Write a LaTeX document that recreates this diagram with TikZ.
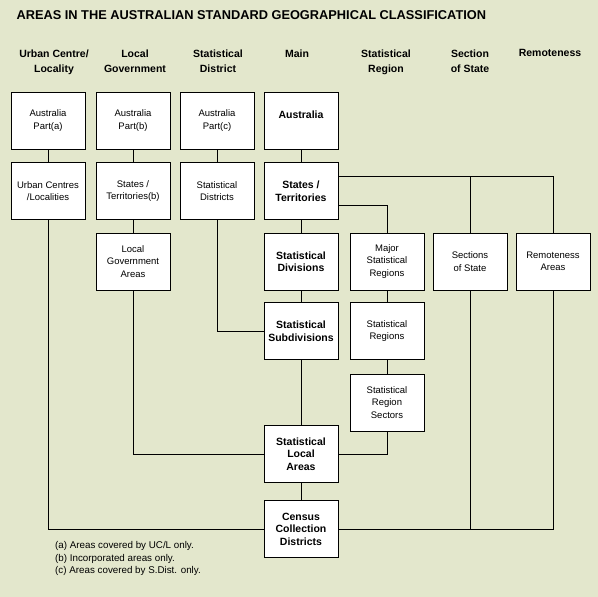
\documentclass[tikz,border=0pt]{standalone}
\usepackage{fontspec}
\setmainfont{Liberation Sans}
\usetikzlibrary{positioning}
\definecolor{PageBg}{HTML}{E3E7CC}

\begin{document}
\begin{tikzpicture}[x=1pt, y=-1pt,
    box/.style={draw=black, fill=white, line width=1pt, minimum width=74pt,
                minimum height=57pt, align=center, inner sep=1pt,
                font=\fontsize{9.5}{12.3}\selectfont},
    mainbox/.style={box, font=\fontsize{10.5}{12.5}\selectfont\bfseries},
    head/.style={anchor=north, align=center, font=\fontsize{10.5}{15}\selectfont\bfseries},
    link/.style={draw=black, line width=1pt}]
  \fill[PageBg] (0,0) rectangle (598,597);
  \useasboundingbox (0,0) rectangle (598,597);

  % title and column heads
  \node[anchor=west, font=\fontsize{12.8}{15}\selectfont\bfseries] (title) at (13,15)
    {AREAS IN THE AUSTRALIAN STANDARD GEOGRAPHICAL CLASSIFICATION};
  \node[head] (hUC)  at (54,46)  {Urban Centre/\\Locality};
  \node[head] (hLG)  at (135,46) {Local\\Government};
  \node[head] (hSD)  at (218,46) {Statistical\\District};
  \node[head] (hMn)  at (297,46) {Main};
  \node[head] (hSR)  at (386,46) {Statistical\\Region};
  \node[head] (hSoS) at (470,46) {Section\\of State};
  \node[head] (hRem) at (550,46) {Remoteness};

  % boxes
  \node[box] (apa) at (48,120.5)  {Australia\\Part(a)};
  \node[box] (apb) at (133,120.5) {Australia\\Part(b)};
  \node[box] (apc) at (217,120.5) {Australia\\Part(c)};
  \node[mainbox] (aus) at (301,120.5) {Australia\\\mbox{}};

  \node[box] (ucl) at (48,191)  {Urban Centres\\/Localities};
  \node[box] (stb) at (133,191) {States /\\Territories(b)};
  \node[box] (sdi) at (217,191) {Statistical\\Districts};
  \node[mainbox] (ste) at (301,191) {States /\\Territories};

  \node[box] (lga) at (133,261.5) {Local\\Government\\Areas};
  \node[mainbox] (sdv) at (301,261.5) {Statistical\\Divisions};
  \node[box] (msr) at (387,261.5) {Major\\Statistical\\Regions};
  \node[box] (sos) at (470,261.5) {Sections\\of State};
  \node[box] (rem) at (553,261.5) {Remoteness\\Areas};

  \node[mainbox] (ssd) at (301,331) {Statistical\\Subdivisions};
  \node[box] (sre) at (387,331) {Statistical\\Regions};
  \node[box] (srs) at (387,402.5) {Statistical\\Region\\Sectors};

  \node[mainbox] (sla) at (301,454) {Statistical\\Local\\Areas};
  \node[mainbox] (ccd) at (301,529) {Census\\Collection\\Districts};

  % connectors
  \draw[link] (apa) -- (ucl);
  \draw[link] (ucl.south) |- (ccd.west);
  \draw[link] (apb) -- (stb);
  \draw[link] (stb) -- (lga);
  \draw[link] (lga.south) |- (sla.west);
  \draw[link] (apc) -- (sdi);
  \draw[link] (sdi.south) |- (ssd.west);
  \draw[link] (aus) -- (ste);
  \draw[link] (ste) -- (sdv);
  \draw[link] (sdv) -- (ssd);
  \draw[link] (ssd) -- (sla);
  \draw[link] (sla) -- (ccd);
  \draw[link] ([yshift=15pt]ste.east) -| (sos.north);
  \draw[link] ([yshift=15pt]ste.east) -| (rem.north);
  \draw[link] ([yshift=-14pt]ste.east) -| (msr.north);
  \draw[link] (msr) -- (sre);
  \draw[link] (sre) -- (srs);
  \draw[link] (srs.south) |- (sla.east);
  \draw[link] (sos.south) |- (ccd.east);
  \draw[link] (rem.south) |- (ccd.east);

  % notes
  \node[anchor=north west, align=left, inner sep=0pt,
        font=\fontsize{9.8}{12.7}\selectfont] (notes) at (55,541)
    {(a) Areas covered by UC/L only.\\
     (b) Incorporated areas only.\\
     (c) Areas covered by S.Dist. only.};
\end{tikzpicture}
\end{document}
